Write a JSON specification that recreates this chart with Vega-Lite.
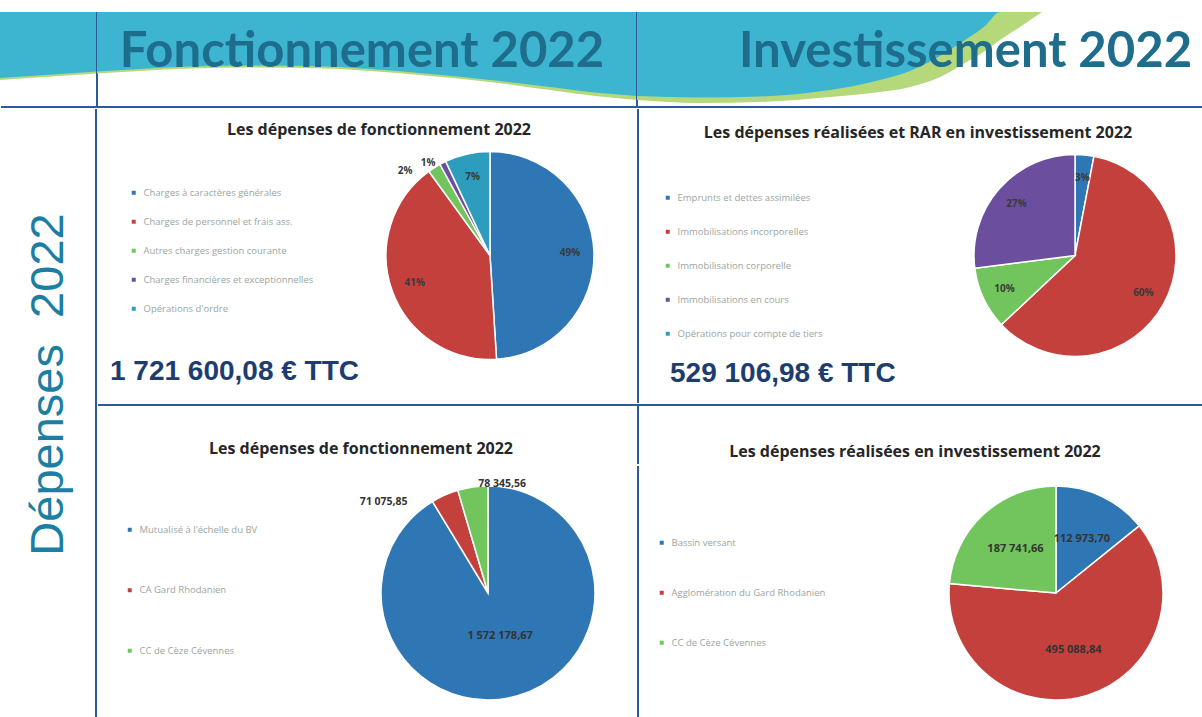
{
  "$schema": "https://vega.github.io/schema/vega-lite/v6.json",
  "padding": 0,
  "background": "white",
  "spacing": 0,
  "resolve": {"scale": {"color": "independent", "theta": "independent", "x": "independent", "y": "independent"}, "legend": {"color": "independent"}},
  "config": {
    "view": {"stroke": null},
    "locale": {"number": {"decimal": ",", "thousands": " ", "grouping": [3], "currency": ["", " €"]}},
    "legend": {"symbolType": "square", "symbolSize": 30, "labelFont": "Open Sans", "labelFontSize": 9.5, "labelColor": "#9aa6a0", "labelLimit": 300, "labelOffset": 5}
  },
  "datasets": {
    "wave": [
      {"x": 0, "c": 78, "g": 80}, {"x": 30, "c": 76, "g": 78}, {"x": 60, "c": 74, "g": 76}, {"x": 97, "c": 71.5, "g": 73.5},
      {"x": 140, "c": 69, "g": 71}, {"x": 190, "c": 66.5, "g": 68.5}, {"x": 250, "c": 65.5, "g": 67.5}, {"x": 310, "c": 66, "g": 68},
      {"x": 370, "c": 69, "g": 71}, {"x": 430, "c": 74, "g": 76}, {"x": 490, "c": 80, "g": 82}, {"x": 550, "c": 87, "g": 90},
      {"x": 600, "c": 93, "g": 96.5}, {"x": 637, "c": 96, "g": 100}, {"x": 700, "c": 97.5, "g": 103}, {"x": 760, "c": 96.5, "g": 102},
      {"x": 830, "c": 90, "g": 97}, {"x": 880, "c": 80, "g": 92}, {"x": 910, "c": 71, "g": 87}, {"x": 940, "c": 56, "g": 77},
      {"x": 965, "c": 40, "g": 63}, {"x": 985, "c": 26, "g": 51}, {"x": 1000, "c": 12, "g": 40}, {"x": 1020, "c": 12, "g": 27},
      {"x": 1042, "c": 12, "g": 12}
    ],
    "tl": [
      {"n": 1, "cat": "Charges à caractères générales", "v": 49, "label": "49%"},
      {"n": 2, "cat": "Charges de personnel et frais ass.", "v": 41, "label": "41%"},
      {"n": 3, "cat": "Autres charges gestion courante", "v": 2, "label": "2%"},
      {"n": 4, "cat": "Charges financières et exceptionnelles", "v": 1, "label": "1%"},
      {"n": 5, "cat": "Opérations d'ordre", "v": 7, "label": "7%"}
    ],
    "tr": [
      {"n": 1, "cat": "Emprunts et dettes assimilées", "v": 3, "label": "3%"},
      {"n": 2, "cat": "Immobilisations incorporelles", "v": 60, "label": "60%"},
      {"n": 3, "cat": "Immobilisation corporelle", "v": 10, "label": "10%"},
      {"n": 4, "cat": "Immobilisations en cours", "v": 27, "label": "27%"}
    ],
    "bl": [
      {"n": 1, "cat": "Mutualisé à l'échelle du BV", "v": 1572178.67},
      {"n": 2, "cat": "CA Gard Rhodanien", "v": 71075.85},
      {"n": 3, "cat": "CC de Cèze Cévennes", "v": 78345.56}
    ],
    "br": [
      {"n": 1, "cat": "Bassin versant", "v": 112973.70},
      {"n": 2, "cat": "Agglomération du Gard Rhodanien", "v": 495088.84},
      {"n": 3, "cat": "CC de Cèze Cévennes", "v": 187741.66}
    ]
  },
  "vconcat": [
    {
      "spacing": 0, "bounds": "flush",
      "resolve": {"scale": {"color": "independent", "theta": "independent", "x": "independent", "y": "independent"}, "legend": {"color": "independent"}},
      "hconcat": [
        {
          "width": 97, "height": 108,
          "layer": [
            {"data": {"name": "wave"}, "transform": [{"filter": "datum.x <= 97"}], "mark": {"type": "area", "interpolate": "monotone", "color": "#b5d97a"},
             "encoding": {"x": {"field": "x", "type": "quantitative", "scale": {"domain": [0, 97], "nice": false, "zero": false}, "axis": null},
                          "y": {"field": "g", "type": "quantitative", "scale": {"domain": [0, 108], "reverse": true, "nice": false, "zero": false}, "axis": null},
                          "y2": {"datum": 12}}},
            {"data": {"name": "wave"}, "transform": [{"filter": "datum.x <= 97"}], "mark": {"type": "area", "interpolate": "monotone", "color": "#3db5d1"},
             "encoding": {"x": {"field": "x", "type": "quantitative", "scale": {"domain": [0, 97], "nice": false, "zero": false}, "axis": null},
                          "y": {"field": "c", "type": "quantitative", "scale": {"domain": [0, 108], "reverse": true, "nice": false, "zero": false}, "axis": null},
                          "y2": {"datum": 12}}},
            {"data": {"values": [{}]}, "mark": {"type": "rule", "color": "#2b5c97", "strokeWidth": 2}, "encoding": {"x": {"value": "width"}, "y": {"value": 12}, "y2": {"value": 107}}},
            {"data": {"values": [{}]}, "mark": {"type": "rule", "color": "#2b5c97", "strokeWidth": 2}, "encoding": {"x": {"value": 1}, "x2": {"value": "width"}, "y": {"value": 107}}}
          ]
        },
        {
          "width": 540, "height": 108,
          "layer": [
            {"data": {"name": "wave"}, "transform": [{"filter": "datum.x >= 97 && datum.x <= 637"}], "mark": {"type": "area", "interpolate": "monotone", "color": "#b5d97a"},
             "encoding": {"x": {"field": "x", "type": "quantitative", "scale": {"domain": [97, 637], "nice": false, "zero": false}, "axis": null},
                          "y": {"field": "g", "type": "quantitative", "scale": {"domain": [0, 108], "reverse": true, "nice": false, "zero": false}, "axis": null},
                          "y2": {"datum": 12}}},
            {"data": {"name": "wave"}, "transform": [{"filter": "datum.x >= 97 && datum.x <= 637"}], "mark": {"type": "area", "interpolate": "monotone", "color": "#3db5d1"},
             "encoding": {"x": {"field": "x", "type": "quantitative", "scale": {"domain": [97, 637], "nice": false, "zero": false}, "axis": null},
                          "y": {"field": "c", "type": "quantitative", "scale": {"domain": [0, 108], "reverse": true, "nice": false, "zero": false}, "axis": null},
                          "y2": {"datum": 12}}},
            {"data": {"values": [{"t": "Fonctionnement 2022"}]}, "mark": {"type": "text", "font": "Lato", "fontWeight": "bold", "fontSize": 49, "color": "#1f6d8c", "baseline": "alphabetic", "dx": -5, "dy": 13}, "encoding": {"text": {"field": "t"}}},
            {"data": {"values": [{}]}, "mark": {"type": "rule", "color": "#2b5c97", "strokeWidth": 2}, "encoding": {"x": {"value": "width"}, "y": {"value": 12}, "y2": {"value": 107}}},
            {"data": {"values": [{}]}, "mark": {"type": "rule", "color": "#2b5c97", "strokeWidth": 2}, "encoding": {"x": {"value": 0}, "x2": {"value": "width"}, "y": {"value": 107}}}
          ]
        },
        {
          "width": 565, "height": 108,
          "layer": [
            {"data": {"name": "wave"}, "transform": [{"filter": "datum.x >= 637"}], "mark": {"type": "area", "interpolate": "monotone", "color": "#b5d97a"},
             "encoding": {"x": {"field": "x", "type": "quantitative", "scale": {"domain": [637, 1202], "nice": false, "zero": false}, "axis": null},
                          "y": {"field": "g", "type": "quantitative", "scale": {"domain": [0, 108], "reverse": true, "nice": false, "zero": false}, "axis": null},
                          "y2": {"datum": 12}}},
            {"data": {"name": "wave"}, "transform": [{"filter": "datum.x >= 637"}], "mark": {"type": "area", "interpolate": "monotone", "color": "#3db5d1"},
             "encoding": {"x": {"field": "x", "type": "quantitative", "scale": {"domain": [637, 1202], "nice": false, "zero": false}, "axis": null},
                          "y": {"field": "c", "type": "quantitative", "scale": {"domain": [0, 108], "reverse": true, "nice": false, "zero": false}, "axis": null},
                          "y2": {"datum": 12}}},
            {"data": {"values": [{"t": "Investissement 2022"}]}, "mark": {"type": "text", "font": "Lato", "fontWeight": "bold", "fontSize": 49, "color": "#1f6d8c", "baseline": "alphabetic", "dx": 46, "dy": 13}, "encoding": {"text": {"field": "t"}}},
            {"data": {"values": [{}]}, "mark": {"type": "rule", "color": "#2b5c97", "strokeWidth": 2}, "encoding": {"x": {"value": 0}, "x2": {"value": "width"}, "y": {"value": 107}}}
          ]
        }
      ]
    },
    {
      "spacing": 0,
      "resolve": {"scale": {"color": "independent", "theta": "independent", "x": "independent", "y": "independent"}, "legend": {"color": "independent"}},
      "hconcat": [
        {
          "width": 97, "height": 609,
          "layer": [
            {"data": {"values": [{"t": "Dépenses \u00a02022"}]}, "mark": {"type": "text", "font": "Liberation Sans", "fontSize": 47, "color": "#1b7fa3", "angle": 270, "baseline": "middle", "align": "center", "dx": 28}, "encoding": {"text": {"field": "t"}}},
            {"data": {"values": [{}]}, "mark": {"type": "rule", "color": "#2b5c97", "strokeWidth": 2}, "encoding": {"x": {"value": 96}, "y": {"value": 1}, "y2": {"value": "height"}}}
          ]
        },
        {
          "spacing": 0,
          "resolve": {"scale": {"color": "independent", "theta": "independent", "x": "independent", "y": "independent"}, "legend": {"color": "independent"}},
          "vconcat": [
            {
              "spacing": 0, "bounds": "flush",
              "resolve": {"scale": {"color": "independent", "theta": "independent", "x": "independent", "y": "independent"}, "legend": {"color": "independent"}},
              "hconcat": [
                {
                  "width": 246, "height": 295,
                  "layer": [
                    {"data": {"values": [{"t": "Les dépenses de fonctionnement 2022"}]}, "mark": {"type": "text", "font": "Open Sans", "fontWeight": "bold", "fontSize": 16, "color": "#262626", "baseline": "middle", "align": "center", "dx": 159, "dy": -125.5}, "encoding": {"text": {"field": "t"}}},
                    {"data": {"values": [{"t": "1 721 600,08 € TTC"}]}, "mark": {"type": "text", "font": "Liberation Sans", "fontWeight": "bold", "fontSize": 28, "color": "#1d3d6e", "baseline": "middle", "align": "left", "dx": -110, "dy": 116.5}, "encoding": {"text": {"field": "t"}}}
                  ]
                },
                {
                  "width": 294, "height": 295,
                  "data": {"name": "tl"},
                  "layer": [
                    {"mark": {"type": "arc", "outerRadius": 104, "stroke": "white", "strokeWidth": 1.5},
                     "encoding": {"theta": {"field": "v", "type": "quantitative", "stack": true}, "order": {"field": "n", "type": "quantitative"},
                                  "color": {"field": "cat", "type": "nominal",
                                            "scale": {"domain": ["Charges à caractères générales", "Charges de personnel et frais ass.", "Autres charges gestion courante", "Charges financières et exceptionnelles", "Opérations d'ordre"], "range": ["#2f76b5", "#c4403d", "#72c55c", "#6b4f9e", "#2e9cbc"]},
                                            "legend": {"title": null, "orient": "none", "legendX": -214, "legendY": 80, "rowPadding": 17}}}},
                    {"mark": {"type": "text", "radius": 80, "font": "Open Sans", "fontWeight": "bold", "fontSize": 10, "color": "#3a3a3a"},
                     "encoding": {"theta": {"field": "v", "type": "quantitative", "stack": true}, "order": {"field": "n", "type": "quantitative"}, "detail": {"field": "cat"},
                                  "text": {"condition": {"test": "datum.v >= 5", "field": "label"}, "value": ""}}},
                    {"mark": {"type": "text", "radius": 100, "align": "right", "dx": -24, "font": "Open Sans", "fontWeight": "bold", "fontSize": 10, "color": "#3a3a3a"},
                     "encoding": {"theta": {"field": "v", "type": "quantitative", "stack": true}, "order": {"field": "n", "type": "quantitative"}, "detail": {"field": "cat"},
                                  "text": {"condition": {"test": "datum.n == 3", "field": "label"}, "value": ""}}},
                    {"mark": {"type": "text", "radius": 110, "align": "center", "dx": -12, "dy": 6, "font": "Open Sans", "fontWeight": "bold", "fontSize": 10, "color": "#3a3a3a"},
                     "encoding": {"theta": {"field": "v", "type": "quantitative", "stack": true}, "order": {"field": "n", "type": "quantitative"}, "detail": {"field": "cat"},
                                  "text": {"condition": {"test": "datum.n == 4", "field": "label"}, "value": ""}}}
                  ]
                },
                {
                  "width": 311, "height": 295,
                  "layer": [
                    {"data": {"values": [{"t": "Les dépenses réalisées et RAR en investissement 2022"}]}, "mark": {"type": "text", "font": "Open Sans", "fontWeight": "bold", "fontSize": 16, "color": "#262626", "baseline": "middle", "align": "center", "dx": 125.5, "dy": -122.5}, "encoding": {"text": {"field": "t"}}},
                    {"data": {"values": [{"t": "529 106,98 € TTC"}]}, "mark": {"type": "text", "font": "Liberation Sans", "fontWeight": "bold", "fontSize": 28, "color": "#1d3d6e", "baseline": "middle", "align": "left", "dx": -122.5, "dy": 118.5}, "encoding": {"text": {"field": "t"}}},
                    {"data": {"values": [{}]}, "mark": {"type": "rule", "color": "#2b5c97", "strokeWidth": 2}, "encoding": {"x": {"value": 1}, "y": {"value": 1}, "y2": {"value": "height"}}}
                  ]
                },
                {
                  "width": 254, "height": 295,
                  "data": {"name": "tr"},
                  "layer": [
                    {"mark": {"type": "arc", "outerRadius": 101, "stroke": "white", "strokeWidth": 1.5},
                     "encoding": {"theta": {"field": "v", "type": "quantitative", "stack": true}, "order": {"field": "n", "type": "quantitative"},
                                  "color": {"field": "cat", "type": "nominal",
                                            "scale": {"domain": ["Emprunts et dettes assimilées", "Immobilisations incorporelles", "Immobilisation corporelle", "Immobilisations en cours", "Opérations pour compte de tiers"], "range": ["#2f76b5", "#c4403d", "#72c55c", "#6b4f9e", "#2e9cbc"]},
                                            "legend": {"title": null, "orient": "none", "legendX": -285, "legendY": 85, "rowPadding": 22}}}},
                    {"mark": {"type": "text", "radius": 78, "font": "Open Sans", "fontWeight": "bold", "fontSize": 10, "color": "#3a3a3a"},
                     "encoding": {"theta": {"field": "v", "type": "quantitative", "stack": true}, "order": {"field": "n", "type": "quantitative"}, "detail": {"field": "cat"},
                                  "text": {"field": "label"}}}
                  ]
                }
              ]
            },
            {
              "spacing": 0, "bounds": "flush",
              "resolve": {"scale": {"color": "independent", "theta": "independent", "x": "independent", "y": "independent"}, "legend": {"color": "independent"}},
              "hconcat": [
                {
                  "width": 540, "height": 60,
                  "layer": [
                    {"data": {"values": [{"t": "Les dépenses de fonctionnement 2022"}]}, "mark": {"type": "text", "font": "Open Sans", "fontWeight": "bold", "fontSize": 16, "color": "#262626", "baseline": "middle", "align": "center", "dx": -6, "dy": 15}, "encoding": {"text": {"field": "t"}}},
                    {"data": {"values": [{}]}, "mark": {"type": "rule", "color": "#2b5c97", "strokeWidth": 2}, "encoding": {"x": {"value": 1}, "x2": {"value": "width"}, "y": {"value": 1}}}
                  ]
                },
                {
                  "width": 565, "height": 60,
                  "layer": [
                    {"data": {"values": [{"t": "Les dépenses réalisées en investissement 2022"}]}, "mark": {"type": "text", "font": "Open Sans", "fontWeight": "bold", "fontSize": 16, "color": "#262626", "baseline": "middle", "align": "center", "dx": -4.5, "dy": 18}, "encoding": {"text": {"field": "t"}}},
                    {"data": {"values": [{}]}, "mark": {"type": "rule", "color": "#2b5c97", "strokeWidth": 2}, "encoding": {"x": {"value": 0}, "x2": {"value": "width"}, "y": {"value": 1}}},
                    {"data": {"values": [{}]}, "mark": {"type": "rule", "color": "#2b5c97", "strokeWidth": 2}, "encoding": {"x": {"value": 1}, "y": {"value": 1}, "y2": {"value": "height"}}}
                  ]
                }
              ]
            },
            {
              "spacing": 0, "bounds": "flush",
              "resolve": {"scale": {"color": "independent", "theta": "independent", "x": "independent", "y": "independent"}, "legend": {"color": "independent"}},
              "hconcat": [
                {"width": 242, "height": 254, "data": {"values": [{"t": ""}]}, "mark": {"type": "text"}, "encoding": {"text": {"field": "t"}}},
                {
                  "width": 298, "height": 254,
                  "data": {"name": "bl"},
                  "layer": [
                    {"mark": {"type": "arc", "outerRadius": 107, "stroke": "white", "strokeWidth": 1.5},
                     "encoding": {"theta": {"field": "v", "type": "quantitative", "stack": true}, "order": {"field": "n", "type": "quantitative"},
                                  "color": {"field": "cat", "type": "nominal",
                                            "scale": {"domain": ["Mutualisé à l'échelle du BV", "CA Gard Rhodanien", "CC de Cèze Cévennes"], "range": ["#2f76b5", "#c4403d", "#72c55c"]},
                                            "legend": {"title": null, "orient": "none", "legendX": -214, "legendY": 59, "rowPadding": 48.5}}}},
                    {"mark": {"type": "text", "radius": 45, "font": "Open Sans", "fontWeight": "bold", "fontSize": 11, "color": "#333333"},
                     "encoding": {"theta": {"field": "v", "type": "quantitative", "stack": true}, "order": {"field": "n", "type": "quantitative"}, "detail": {"field": "cat"},
                                  "text": {"condition": {"test": "datum.n == 1", "field": "v", "type": "quantitative", "format": ",.2f"}, "value": ""}}},
                    {"mark": {"type": "text", "radius": 100, "align": "right", "dx": -40, "font": "Open Sans", "fontWeight": "bold", "fontSize": 10.5, "color": "#333333"},
                     "encoding": {"theta": {"field": "v", "type": "quantitative", "stack": true}, "order": {"field": "n", "type": "quantitative"}, "detail": {"field": "cat"},
                                  "text": {"condition": {"test": "datum.n == 2", "field": "v", "type": "quantitative", "format": ",.2f"}, "value": ""}}},
                    {"mark": {"type": "text", "radius": 110, "align": "left", "dx": 6, "font": "Open Sans", "fontWeight": "bold", "fontSize": 10.5, "color": "#333333"},
                     "encoding": {"theta": {"field": "v", "type": "quantitative", "stack": true}, "order": {"field": "n", "type": "quantitative"}, "detail": {"field": "cat"},
                                  "text": {"condition": {"test": "datum.n == 3", "field": "v", "type": "quantitative", "format": ",.2f"}, "value": ""}}}
                  ]
                },
                {"width": 273, "height": 254, "data": {"values": [{}]}, "mark": {"type": "rule", "color": "#2b5c97", "strokeWidth": 2}, "encoding": {"x": {"value": 1}, "y": {"value": 0}, "y2": {"value": 253}}},
                {
                  "width": 292, "height": 254,
                  "data": {"name": "br"},
                  "layer": [
                    {"mark": {"type": "arc", "outerRadius": 107, "stroke": "white", "strokeWidth": 1.5},
                     "encoding": {"theta": {"field": "v", "type": "quantitative", "stack": true}, "order": {"field": "n", "type": "quantitative"},
                                  "color": {"field": "cat", "type": "nominal",
                                            "scale": {"domain": ["Bassin versant", "Agglomération du Gard Rhodanien", "CC de Cèze Cévennes"], "range": ["#2f76b5", "#c4403d", "#72c55c"]},
                                            "legend": {"title": null, "orient": "none", "legendX": -253, "legendY": 72, "rowPadding": 38}}}},
                    {"mark": {"type": "text", "radius": 60, "font": "Open Sans", "fontWeight": "bold", "fontSize": 11, "color": "#333333"},
                     "encoding": {"theta": {"field": "v", "type": "quantitative", "stack": true}, "order": {"field": "n", "type": "quantitative"}, "detail": {"field": "cat"},
                                  "text": {"field": "v", "type": "quantitative", "format": ",.2f"}}}
                  ]
                }
              ]
            }
          ]
        }
      ]
    }
  ]
}
